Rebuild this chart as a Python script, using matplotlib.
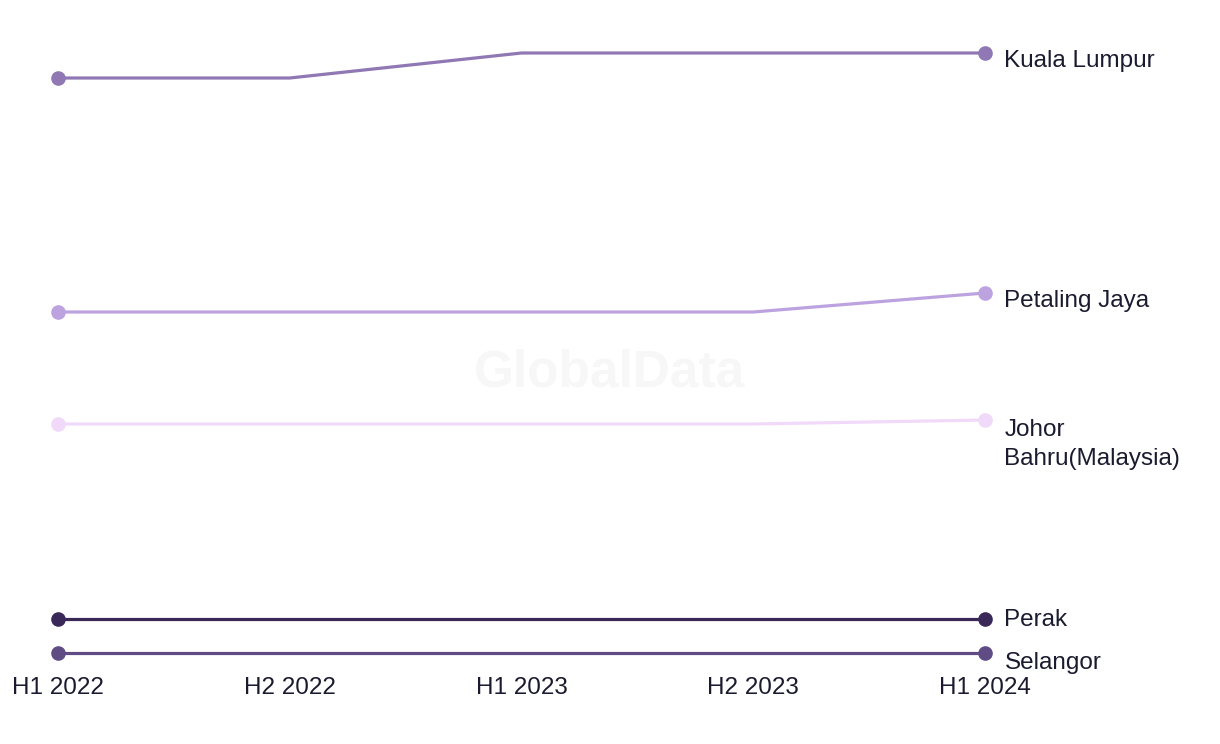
import matplotlib
matplotlib.use("Agg")
import matplotlib.pyplot as plt

periods = ["H1 2022", "H2 2022", "H1 2023", "H2 2023", "H1 2024"]
cities = ["Kuala Lumpur", "Petaling Jaya", "Johor\nBahru(Malaysia)", "Perak", "Selangor"]
kuala_lumpur = [125, 125, 130, 130, 130]
petaling_jaya = [78.2, 78.2, 78.2, 78.2, 82]
johor_bahru = [55.8, 55.8, 55.8, 55.8, 56.6]
perak = [16.8, 16.8, 16.8, 16.8, 16.8]
selangor = [10, 10, 10, 10, 10]

series = [kuala_lumpur, petaling_jaya, johor_bahru, perak, selangor]
colors = ["#8f78b3", "#bca3e0", "#f1d9fa", "#3a2858", "#604c85"]
# label offsets in points (x, y) relative to the last point
label_offsets = [(14, -6), (14, -6), (14, 0.5), (14, -1), (14, -7)]

plt.rcParams["font.family"] = ["Liberation Sans", "DejaVu Sans"]

fig = plt.figure(figsize=(12.2, 7.44), dpi=100)
W, H = 1220, 744
ax = fig.add_axes([58 / W, (H - 653) / H, (985 - 58) / W, (653 - 53) / H])

x = list(range(len(periods)))
for vals, c, name, off in zip(series, colors, cities, label_offsets):
    ax.plot(x, vals, color=c, lw=2.3, solid_capstyle="round", clip_on=False, zorder=3)
    ax.plot([x[0], x[-1]], [vals[0], vals[-1]], "o", color=c, ms=9.5, clip_on=False, zorder=4)
    va = "top" if "\n" in name else "center"
    ax.annotate(name, (x[-1], vals[-1]), xytext=off, textcoords="offset points",
                ha="left", va=va, fontsize=17.5, color="#1b1b30", linespacing=1.4)

fig.text(0.5, 1 - 373 / H, "GlobalData", ha="center", va="center",
         fontsize=37, fontweight="bold", color="#f7f7f7", zorder=0)

ax.set_xlim(0, 4)
ax.set_ylim(10, 130)
ax.set_xticks(x)
ax.set_xticklabels(periods, fontsize=17.5, color="#1b1b30")
ax.tick_params(axis="x", length=0, pad=17.5)
ax.set_yticks([])
for s in ax.spines.values():
    s.set_visible(False)

fig.savefig("out.png", dpi=100)
